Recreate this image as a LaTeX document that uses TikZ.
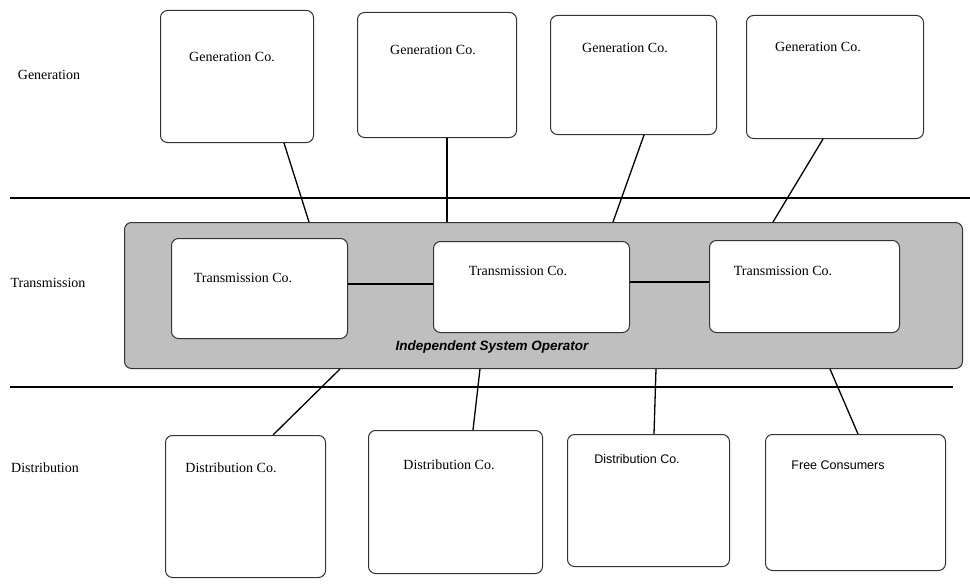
\documentclass[tikz,border=0pt]{standalone}
\usepackage{fontspec}
\setmainfont{Liberation Serif}
\setsansfont{Liberation Sans}
\begin{document}
\begin{tikzpicture}[x=1pt,y=-1pt,
  box/.style={draw=black!80,line width=1pt,fill=white,rounded corners=7pt,anchor=north west,inner sep=0pt},
  lbl/.style={font=\fontsize{14}{16}\selectfont,inner sep=0pt,anchor=center},
  slbl/.style={font=\sffamily\fontsize{12.5}{14}\selectfont,inner sep=0pt,anchor=center},
  link/.style={draw=black,line width=1.3pt},
  bar/.style={draw=black,line width=2.6pt}]
\useasboundingbox (0,0) rectangle (970,586);
% layer labels
\node[lbl] (lgen) at (49,75) {Generation};
\node[lbl] (ltra) at (48,283) {Transmission};
\node[lbl] (ldis) at (45,468) {Distribution};
% separating bars
\coordinate (b1l) at (10,198); \coordinate (b1r) at (970,198);
\coordinate (b2l) at (10,387); \coordinate (b2r) at (953,387);
\draw[bar] (b1l) -- (b1r);
\draw[bar] (b2l) -- (b2r);
% generation
\node[box,minimum width=153pt,minimum height=132pt] (g1) at (160,10) {};
\node[box,minimum width=159pt,minimum height=125pt] (g2) at (357,12) {};
\node[box,minimum width=166pt,minimum height=119pt] (g3) at (550,15) {};
\node[box,minimum width=177pt,minimum height=123pt] (g4) at (746,15) {};
\node[lbl] (tg1) at (232,57) {Generation Co.};
\node[lbl] (tg2) at (433,50) {Generation Co.};
\node[lbl] (tg3) at (625,48) {Generation Co.};
\node[lbl] (tg4) at (818,47) {Generation Co.};
% ISO
\node[box,draw=black!80,fill=black!25,minimum width=838pt,minimum height=146pt] (iso) at (124,222) {};
\node[box,minimum width=176pt,minimum height=100pt] (t1) at (171,238) {};
\node[box,minimum width=196pt,minimum height=91pt] (t2) at (433,241) {};
\node[box,minimum width=190pt,minimum height=92pt] (t3) at (709,240) {};
\node[lbl] (tt1) at (243,278) {Transmission Co.};
\node[lbl] (tt2) at (518,271) {Transmission Co.};
\node[lbl] (tt3) at (783,271) {Transmission Co.};
\node[lbl,font=\sffamily\bfseries\itshape\fontsize{13.5}{15}\selectfont] (tiso) at (492,347) {Independent System Operator};
\draw[link] (t1.east |- 0,284) -- (t2.west |- 0,284);
\draw[link] (t2.east |- 0,282) -- (t3.west |- 0,282);
% distribution
\node[box,minimum width=160pt,minimum height=142pt] (d1) at (165,435) {};
\node[box,minimum width=174pt,minimum height=143pt] (d2) at (368,430) {};
\node[box,minimum width=162pt,minimum height=132pt] (d3) at (567,434) {};
\node[box,minimum width=180pt,minimum height=136pt] (d4) at (765,434) {};
\node[lbl] (td1) at (231,468) {Distribution Co.};
\node[lbl] (td2) at (449,465) {Distribution Co.};
\node[slbl] (td3) at (637,459) {Distribution Co.};
\node[slbl] (td4) at (838,465) {Free Consumers};
% connectors generation -> ISO
\draw[link] (g1.south -| 284,0) -- (iso.north -| 309,0);
\draw[link] (g2.south -| 447,0) -- (iso.north -| 447,0);
\draw[link] (g3.south -| 644,0) -- (iso.north -| 613,0);
\draw[link] (g4.south -| 823,0) -- (iso.north -| 773,0);
% connectors ISO -> distribution
\draw[link] (iso.south -| 340,0) -- (d1.north -| 273,0);
\draw[link] (iso.south -| 480,0) -- (d2.north -| 473,0);
\draw[link] (iso.south -| 656,0) -- (d3.north -| 654,0);
\draw[link] (iso.south -| 830,0) -- (d4.north -| 858,0);
\end{tikzpicture}
\end{document}
